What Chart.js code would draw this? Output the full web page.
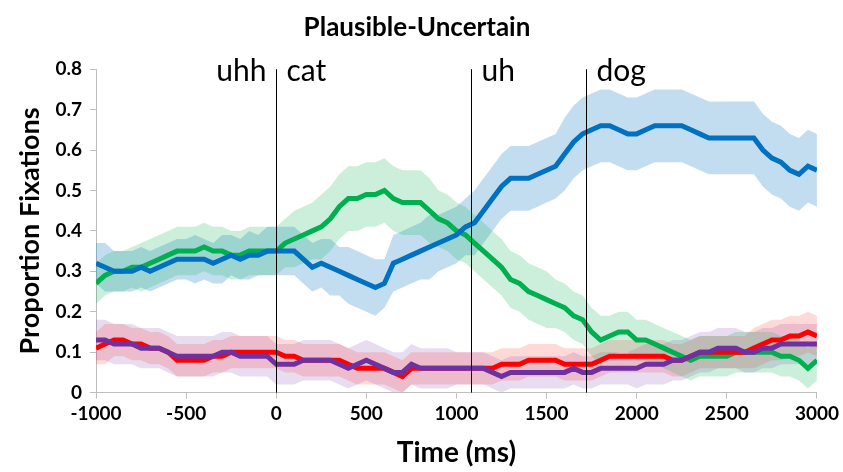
<!DOCTYPE html>
<html>
<head>
<meta charset="utf-8">
<script src="https://cdn.jsdelivr.net/npm/chart.js@4"></script>
<style>
  html, body { margin: 0; padding: 0; background: #fff; }
  #wrap { width: 843px; height: 472px; }
</style>
</head>
<body>
<div id="wrap"><canvas id="fixChart"></canvas></div>
<script>
// time points, every 50 ms from -1000 to 3000
const times = [];
for (let t = -1000; t <= 3000; t += 50) times.push(t);

// mean proportions
const blue = [
  .32, .31, .30, .30, .30, .31, .30, .31, .32, .33,
  .33, .33, .33, .32, .33, .34, .33, .34, .34, .35,
  .35, .35, .35, .33, .31, .32, .31, .30, .29, .28,
  .27, .26, .27, .32, .33, .34, .35, .36, .37, .38,
  .39, .41, .42, .45, .48, .51, .53, .53, .53, .54,
  .55, .56, .59, .62, .64, .65, .66, .66, .65, .64,
  .64, .65, .66, .66, .66, .66, .65, .64, .63, .63,
  .63, .63, .63, .63, .60, .58, .57, .55, .54, .56, .55
];
const green = [
  .27, .29, .30, .30, .31, .31, .32, .33, .34, .35,
  .35, .35, .36, .35, .35, .34, .34, .35, .35, .35,
  .35, .37, .38, .39, .40, .41, .43, .46, .48, .48,
  .49, .49, .50, .48, .47, .47, .47, .45, .43, .42,
  .40, .39, .37, .35, .33, .31, .28, .27, .25, .24,
  .23, .22, .21, .19, .18, .15, .13, .14, .15, .15,
  .13, .13, .12, .11, .10, .09, .08, .09, .09, .09,
  .09, .10, .10, .10, .10, .10, .09, .09, .08, .06, .08
];
const red = [
  .11, .12, .13, .13, .12, .12, .11, .11, .10, .08,
  .08, .08, .08, .09, .09, .10, .10, .10, .10, .10,
  .10, .09, .09, .08, .08, .08, .08, .08, .07, .06,
  .06, .06, .06, .05, .04, .06, .06, .06, .06, .06,
  .06, .06, .06, .06, .06, .07, .07, .07, .08, .08,
  .08, .08, .07, .07, .07, .07, .08, .09, .09, .09,
  .09, .09, .09, .09, .08, .08, .09, .10, .10, .10,
  .10, .10, .10, .11, .12, .13, .13, .14, .14, .15, .14
];
const purple = [
  .13, .13, .12, .12, .12, .11, .11, .11, .10, .09,
  .09, .09, .09, .09, .10, .10, .09, .09, .09, .09,
  .07, .07, .07, .08, .08, .08, .08, .07, .06, .07,
  .08, .07, .06, .05, .05, .07, .06, .06, .06, .06,
  .06, .06, .06, .06, .05, .04, .05, .05, .05, .05,
  .05, .05, .05, .06, .05, .05, .06, .06, .06, .06,
  .06, .07, .07, .07, .08, .08, .09, .10, .10, .11,
  .11, .11, .10, .10, .11, .11, .12, .12, .12, .12, .12
];

// error band half-widths
const blueErr = [
  .05, .06, .05, .05, .05, .05, .05, .05, .05, .05,
  .05, .06, .05, .05, .06, .05, .05, .06, .05, .06,
  .06, .06, .06, .06, .06, .06, .07, .06, .07, .07,
  .07, .07, .06, .07, .07, .07, .07, .08, .07, .07,
  .07, .07, .08, .08, .08, .08, .08, .08, .08, .08,
  .08, .08, .09, .09, .09, .09, .09, .09, .09, .09,
  .09, .09, .09, .09, .09, .09, .09, .09, .09, .09,
  .09, .09, .09, .09, .09, .09, .09, .09, .09, .09, .09
];
const greenErr = [
  .05, .05, .05, .05, .05, .06, .06, .06, .06, .06,
  .06, .06, .06, .06, .06, .06, .06, .06, .06, .06,
  .06, .06, .07, .07, .07, .08, .08, .08, .08, .08,
  .08, .08, .08, .08, .08, .08, .08, .08, .07, .07,
  .07, .07, .07, .07, .07, .07, .07, .07, .07, .07,
  .07, .06, .06, .06, .06, .06, .06, .05, .05, .05,
  .05, .05, .05, .05, .05, .05, .05, .05, .05, .05,
  .05, .05, .05, .05, .05, .05, .05, .05, .05, .05, .05
];
const redErr = [
  .04, .05, .04, .04, .04, .04, .04, .04, .04, .04,
  .04, .04, .04, .04, .04, .04, .04, .04, .04, .04,
  .04, .04, .04, .04, .04, .04, .04, .04, .04, .04,
  .04, .04, .04, .04, .04, .04, .04, .04, .04, .04,
  .04, .04, .04, .04, .04, .04, .04, .04, .04, .04,
  .04, .04, .04, .04, .04, .04, .04, .04, .04, .04,
  .04, .04, .04, .04, .04, .04, .04, .04, .04, .04,
  .04, .04, .04, .05, .05, .05, .05, .05, .05, .05, .05
];
const purpleErr = [
  .05, .05, .05, .05, .05, .05, .05, .05, .05, .05,
  .05, .05, .05, .05, .05, .05, .05, .05, .05, .05,
  .05, .05, .05, .05, .05, .05, .05, .05, .05, .05,
  .05, .05, .05, .05, .05, .05, .05, .05, .05, .05,
  .04, .04, .04, .04, .04, .04, .04, .04, .04, .04,
  .04, .04, .04, .04, .04, .04, .04, .04, .04, .04,
  .05, .05, .05, .05, .05, .05, .05, .05, .05, .05,
  .05, .05, .05, .05, .05, .05, .05, .05, .05, .05, .05
];

// word onsets
const markerTimes = [0, 1080, 1720];
const markerWords = [['uhh', 'cat'], ['', 'uh'], ['', 'dog']];

const series = [
  { mean: green,  err: greenErr,  line: '#00B050', band: 'rgba(0, 176, 80, 0.2)' },
  { mean: blue,   err: blueErr,   line: '#0070C0', band: 'rgba(0, 112, 192, 0.24)' },
  { mean: red,    err: redErr,    line: '#FF0000', band: 'rgba(255, 60, 60, 0.2)' },
  { mean: purple, err: purpleErr, line: '#7030A0', band: 'rgba(140, 80, 180, 0.2)' }
];

const datasets = [];
series.forEach(s => {
  datasets.push({
    data: times.map((t, i) => ({ x: t, y: s.mean[i] + s.err[i] })),
    borderWidth: 0, pointRadius: 0, backgroundColor: s.band,
    fill: '+1', order: 10
  });
  datasets.push({
    data: times.map((t, i) => ({ x: t, y: Math.max(0, s.mean[i] - s.err[i]) })),
    borderWidth: 0, pointRadius: 0, fill: false, order: 10
  });
});
series.forEach((s, k) => {
  datasets.push({
    data: times.map((t, i) => ({ x: t, y: s.mean[i] })),
    borderColor: s.line, borderWidth: 5, pointRadius: 0,
    fill: false, tension: 0, order: 4 - k
  });
});

// vertical onset lines with words
const markerPlugin = {
  id: 'markers',
  afterDatasetsDraw(chart) {
    const { ctx, chartArea, scales } = chart;
    ctx.save();
    ctx.strokeStyle = '#000';
    ctx.lineWidth = 1;
    ctx.font = '30px Lato';
    ctx.fillStyle = '#000';
    ctx.textBaseline = 'middle';
    markerTimes.forEach((t, i) => {
      const x = Math.round(scales.x.getPixelForValue(t)) + 0.5;
      ctx.beginPath();
      ctx.moveTo(x, chartArea.top);
      ctx.lineTo(x, chartArea.bottom);
      ctx.stroke();
      const [leftWord, rightWord] = markerWords[i];
      if (leftWord) {
        ctx.textAlign = 'right';
        ctx.fillText(leftWord, x - 10, chartArea.top + 2);
      }
      ctx.textAlign = 'left';
      ctx.fillText(rightWord, x + 10, chartArea.top + 2);
    });
    ctx.restore();
  }
};

new Chart(document.getElementById('fixChart'), {
  type: 'line',
  data: { datasets: datasets },
  plugins: [markerPlugin],
  options: {
    responsive: true,
    maintainAspectRatio: false,
    animation: false,
    layout: { padding: { left: 14, right: 23, top: 0, bottom: 2 } },
    plugins: {
      legend: { display: false },
      tooltip: { enabled: false },
      title: {
        display: true,
        text: 'Plausible-Uncertain',
        color: '#000',
        font: { family: 'Lato', size: 26, weight: 'bold' },
        padding: { top: 12, bottom: 26 }
      }
    },
    scales: {
      x: {
        type: 'linear',
        min: -1000, max: 3000,
        ticks: {
          stepSize: 500, color: '#000', padding: 4,
          font: { family: 'Lato', size: 19, weight: 'bold' },
          callback: v => String(v)
        },
        grid: { drawOnChartArea: false, drawTicks: true, tickLength: 6, color: '#bfbfbf' },
        border: { color: '#bfbfbf' },
        title: {
          display: true, text: 'Time (ms)', color: '#000',
          font: { family: 'Lato', size: 28, weight: 'bold' },
          padding: { top: 7, bottom: 0 }
        }
      },
      y: {
        min: 0, max: 0.8,
        ticks: {
          stepSize: 0.1, color: '#000', padding: 8,
          font: { family: 'Lato', size: 19, weight: 'bold' },
          callback: v => String(Math.round(v * 10) / 10)
        },
        grid: { drawOnChartArea: false, drawTicks: true, tickLength: 6, color: '#bfbfbf' },
        border: { color: '#bfbfbf' },
        title: {
          display: true, text: 'Proportion Fixations', color: '#000',
          font: { family: 'Lato', size: 27, weight: 'bold' },
          padding: { top: 0, bottom: 6 }
        },
        afterFit(scale) { scale.width = 82; }
      }
    }
  }
});
</script>
</body>
</html>
